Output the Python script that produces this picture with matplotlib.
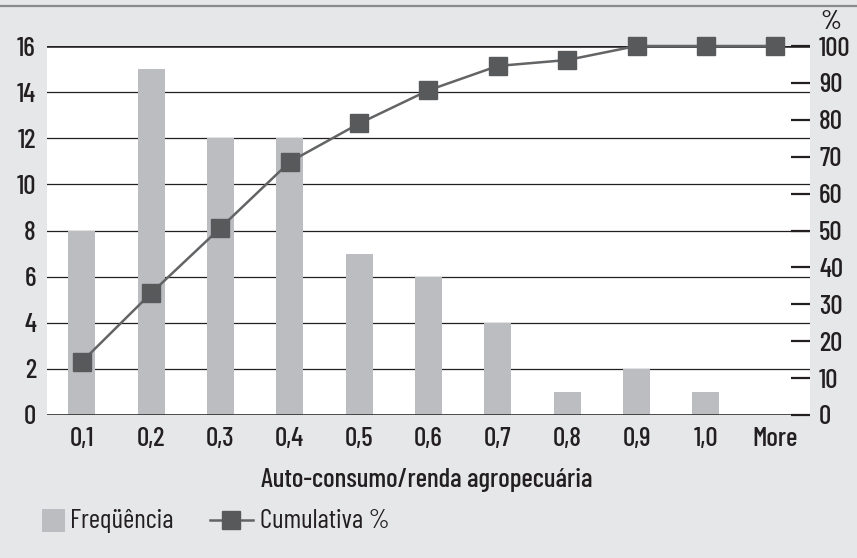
import matplotlib
matplotlib.use('Agg')
import matplotlib.pyplot as plt
from matplotlib.lines import Line2D
from matplotlib.patches import Rectangle

categorias = ['0,1', '0,2', '0,3', '0,4', '0,5', '0,6', '0,7', '0,8', '0,9', '1,0', 'More']
frequencia = [8, 15, 12, 12, 7, 6, 4, 1, 2, 1, 0]
cumulativa = [14.4, 33.0, 50.7, 68.6, 79.0, 88.0, 94.6, 96.2, 100.0, 100.0, 100.0]

plt.rcParams['font.family'] = ['Barlow Condensed', 'DejaVu Sans']
plt.rcParams['font.stretch'] = 'condensed'
plt.rcParams['font.weight'] = 500

cinza_fundo = '#e6e7e8'
cinza_barra = '#bcbdc0'
cinza_linha = '#58595b'
preto = '#231f20'
tam = 19.5

fig = plt.figure(figsize=(8.57, 5.58), dpi=100, facecolor=cinza_fundo)
ax = fig.add_axes([47 / 857, 1 - 415 / 558, 763 / 857, 369 / 558])
ax.set_facecolor('white')

x = list(range(len(categorias)))
ax.bar(x, frequencia, width=0.39, color=cinza_barra, zorder=2)
ax.set_xlim(-0.5, 10.5)
ax.set_ylim(0, 16)
ax.set_yticks(range(0, 17, 2))
ax.set_xticks(x)
ax.set_xticklabels(categorias)
ax.yaxis.grid(True, color=preto, linewidth=0.9)
ax.set_axisbelow(True)
ax.axhline(16, color=preto, lw=1.8, zorder=3)
ax.axhline(0, color=preto, lw=1.8, zorder=3)
for s in ax.spines.values():
    s.set_visible(False)
ax.tick_params(axis='y', length=0, pad=8, labelsize=tam, labelcolor=preto)
ax.tick_params(axis='x', length=0, pad=9, labelsize=tam, labelcolor=preto)

ax2 = ax.twinx()
ax2.set_ylim(0, 100)
ax2.set_yticks(range(0, 101, 10))
ax2.plot(x, cumulativa, color='#636466', lw=1.8, marker='s', ms=13.5,
         mfc=cinza_linha, mec=cinza_linha, clip_on=False, zorder=4)
for s in ax2.spines.values():
    s.set_visible(False)
ax2.tick_params(axis='y', direction='in', length=13.5, width=1.6, color=preto,
                pad=6.5, labelsize=tam, labelcolor=preto)
fig.text(820 / 857, 1 - 22 / 558, '%', fontsize=tam, color=preto, ha='left', va='center')

# xlabel
fig.text(427 / 857, 1 - 480 / 558, 'Auto-consumo/renda agropecuária',
         fontsize=tam, color=preto, ha='center', va='center')

# borda superior
fig.add_artist(Line2D([0, 1], [1 - 6 / 558, 1 - 6 / 558], color='#8a8b8d', lw=1.6))

# legenda
fig.add_artist(Rectangle((42 / 857, 1 - 532 / 558), 23 / 857, 23 / 558,
                         facecolor=cinza_barra, edgecolor='none'))
fig.text(70 / 857, 1 - 521 / 558, 'Freqüência', fontsize=tam, color=preto,
         ha='left', va='center', weight='normal')
fig.add_artist(Line2D([210 / 857, 253 / 857], [1 - 520 / 558, 1 - 520 / 558],
                      color='#636466', lw=1.8))
fig.add_artist(Line2D([231.5 / 857], [1 - 520 / 558], marker='s', ms=13.5,
                      mfc=cinza_linha, mec=cinza_linha, lw=0))
fig.text(260 / 857, 1 - 521 / 558, 'Cumulativa %', fontsize=tam, color=preto,
         ha='left', va='center', weight='normal')

fig.savefig('out.png', dpi=100, facecolor=cinza_fundo)
